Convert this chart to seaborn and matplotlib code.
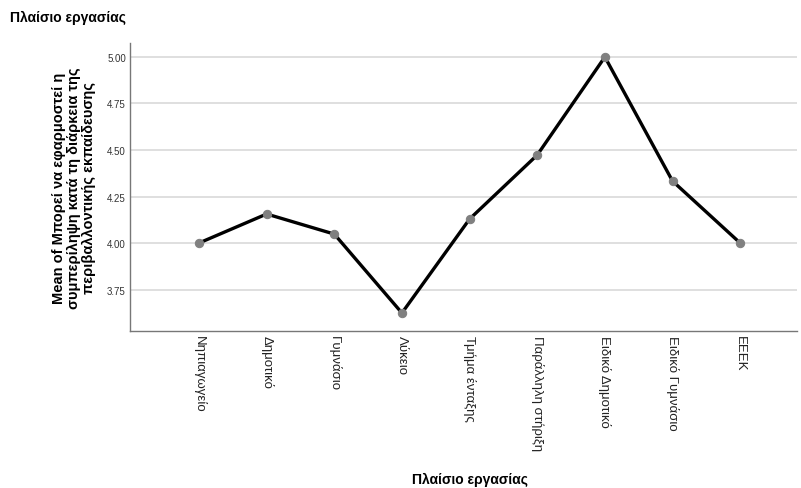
import pandas as pd
import matplotlib
matplotlib.use('Agg')
import matplotlib.pyplot as plt
import seaborn as sns

categories = ['Νηπιαγωγείο', 'Δημοτικό', 'Γυμνάσιο', 'Λύκειο', 'Τμήμα ένταξης',
              'Παράλληλη στήριξη', 'Ειδικό Δημοτικό', 'Ειδικό Γυμνάσιο', 'ΕΕΕΚ']
means = [4.00, 4.156, 4.048, 3.624, 4.129, 4.473, 5.00, 4.333, 4.00]
y_ticks = [3.75, 4.00, 4.25, 4.50, 4.75, 5.00]

title = 'Πλαίσιο εργασίας'
y_label = ('Mean of Μπορεί να εφαρμοστεί η\n'
           'συμπερίληψη κατά τη διάρκεια της\n'
           'περιβαλλοντικής εκπαίδευσης')

sns.set_style('white')
plt.rcParams['font.family'] = ['Liberation Sans', 'DejaVu Sans']
plt.rcParams['text.color'] = 'black'
plt.rcParams['axes.labelcolor'] = 'black'

df = pd.DataFrame({'plaisio': categories, 'mean': means})

fig = plt.figure(figsize=(8.01, 4.89), dpi=100)
ax = fig.add_axes([0.1623, 0.321, 0.8327, 0.589])

ax.grid(axis='y', color='#d9d9d9', linewidth=1.2)
ax.set_axisbelow(True)

sns.lineplot(data=df, x='plaisio', y='mean', sort=False, ax=ax,
             color='black', linewidth=2.4, marker='o', markersize=6,
             markerfacecolor='#808080', markeredgecolor='#808080', zorder=3)

ax.set_xlim(-1.02, 8.84)
ax.set_ylim(3.527, 5.075)
ax.set_yticks(y_ticks)
ax.set_yticklabels([f'{v:.2f}' for v in y_ticks], fontsize=7, color='#333333')
ax.tick_params(axis='y', length=0, pad=3)
ax.tick_params(axis='x', length=0, pad=3)
ax.set_xticks(range(len(categories)))
ax.set_xticklabels(categories, rotation=270, fontsize=9.5, va='top', ha='center',
                   color='#222222')

for side in ['top', 'right']:
    ax.spines[side].set_visible(False)
for side in ['left', 'bottom']:
    ax.spines[side].set_color('#777777')
    ax.spines[side].set_linewidth(1.0)

ax.set_ylabel(y_label, fontsize=10.5, fontweight='bold', labelpad=8, linespacing=1.1)
ax.set_xlabel(title, fontsize=10, fontweight='bold', labelpad=0)
ax.xaxis.set_label_coords(0.51, -0.49)

fig.text(0.012, 0.963, title, fontsize=10, fontweight='bold', va='center', ha='left')

fig.savefig('out.png', dpi=100)
